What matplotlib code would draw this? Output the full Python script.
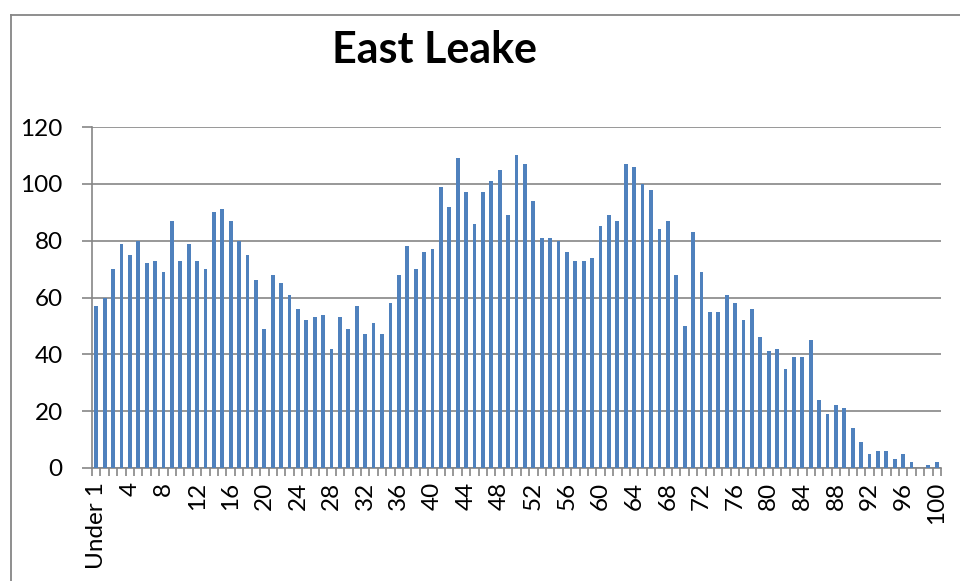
import matplotlib
matplotlib.use('Agg')
import matplotlib.pyplot as plt
from matplotlib.lines import Line2D
import numpy as np

plt.rcParams['font.family'] = ['Lato', 'DejaVu Sans']

TITLE = 'East Leake'
AGES = ['Under 1'] + [str(a) for a in range(1, 101)]
COUNTS = [57, 60, 70, 79, 75, 80, 72, 73, 69, 87,
          73, 79, 73, 70, 90, 91, 87, 80, 75, 66,
          49, 68, 65, 61, 56, 52, 53, 54, 42, 53,
          49, 57, 47, 51, 47, 58, 68, 78, 70, 76,
          77, 99, 92, 109, 97, 86, 97, 101, 105, 89,
          110, 107, 94, 81, 81, 80, 76, 73, 73, 74,
          85, 89, 87, 107, 106, 100, 98, 84, 87, 68,
          50, 83, 69, 55, 55, 61, 58, 52, 56, 46,
          41, 42, 35, 39, 39, 45, 24, 19, 22, 21,
          14, 9, 5, 6, 6, 3, 5, 2, 0, 1,
          2]
Y_TICKS = [0, 20, 40, 60, 80, 100, 120]

GRID = '#868686'
BAR = '#4F81BD'

fig = plt.figure(figsize=(9.6, 5.81), dpi=100)
ax = fig.add_axes([92 / 960, 1 - 468 / 581, 849 / 960, 341 / 581])

x = np.arange(len(AGES))
ax.bar(x, COUNTS, width=0.45, color=BAR, zorder=3)

ax.set_xlim(-0.5, len(AGES) - 0.5)
ax.set_ylim(0, 120)
ax.set_yticks(Y_TICKS)
ax.set_yticklabels([str(v) for v in Y_TICKS], fontsize=17.5)
ax.yaxis.grid(True, color=GRID, linewidth=1.2, zorder=0)

# labels every 4th category, tick marks at category boundaries
ax.set_xticks(x[::4])
ax.set_xticklabels(AGES[::4], rotation=90, fontsize=17.5)
ax.set_xticks(np.arange(-0.5, len(AGES)), minor=True)
ax.tick_params(axis='x', which='major', length=0, pad=10)
ax.tick_params(axis='x', which='minor', length=6, width=1.2, color=GRID)
ax.tick_params(axis='y', length=7, width=1.2, color=GRID, pad=14)

for side in ['top', 'right']:
    ax.spines[side].set_visible(False)
for side in ['left', 'bottom']:
    ax.spines[side].set_color(GRID)
    ax.spines[side].set_linewidth(1.2)

fig.text(435 / 960, 1 - 50 / 581, TITLE, fontsize=31, fontweight='bold',
         ha='center', va='center')

# chart frame
fig.add_artist(Line2D([10.5 / 960, 10.5 / 960], [0, 1 - 14.5 / 581],
                      color=GRID, linewidth=1.3, transform=fig.transFigure))
fig.add_artist(Line2D([10.5 / 960, 1], [1 - 14.5 / 581, 1 - 14.5 / 581],
                      color=GRID, linewidth=1.3, transform=fig.transFigure))

fig.savefig('out.png', dpi=100)
